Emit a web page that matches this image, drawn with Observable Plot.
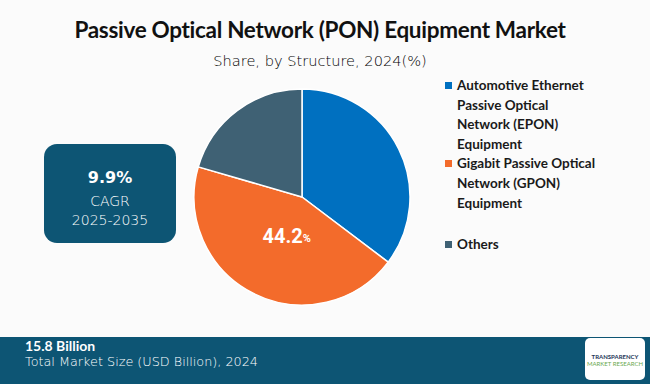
<!DOCTYPE html>
<html><head><meta charset="utf-8">
<script src="https://cdn.jsdelivr.net/npm/d3@7"></script>
<script src="https://cdn.jsdelivr.net/npm/@observablehq/plot@0.6"></script>
<style>
body{margin:0;background:#fbfbfb;}
#page{position:relative;width:650px;height:384px;background:#fbfbfb;overflow:hidden;font-family:Lato,"Open Sans",sans-serif;color:#111;}
#title{position:absolute;left:0;width:640px;top:16px;text-align:center;font-weight:700;font-size:22.5px;letter-spacing:-0.3px;}
#subtitle{position:absolute;left:0;width:640px;top:52px;text-align:center;font-family:"DejaVu Sans",sans-serif;font-size:14.6px;font-weight:300;color:#000;}
#chart{position:absolute;left:187px;top:82px;}
#legend{position:absolute;left:445px;top:76px;font-weight:700;font-size:13.5px;line-height:19.6px;color:#1a1a1a;}
.item{position:relative;padding-left:12px;}
.sw{position:absolute;left:0;top:6px;width:7px;height:7px;}
#cagr{position:absolute;left:44px;top:144px;width:132px;height:99px;border-radius:13px;background:#0d5574;color:#fff;text-align:center;font-family:"DejaVu Sans",sans-serif;}
#cagr .v{margin-top:24px;font-weight:700;font-size:16px;}
#cagr .l{font-size:14px;margin-top:5px;line-height:19px;font-weight:300;}
#footer{position:absolute;left:0;top:337px;width:650px;height:47px;background:#0d5574;color:#fff;}
#footer .a{position:absolute;left:25px;top:1px;font-weight:700;font-size:14px;line-height:16px;}
#footer .b{position:absolute;left:25px;top:18px;font-size:12.8px;line-height:14px;font-family:"DejaVu Sans",sans-serif;font-weight:300;}
#logo{position:absolute;left:585px;top:1px;width:60px;height:42px;background:#fff;border-radius:5px;text-align:center;font-size:6px;font-weight:700;color:#1d3557;}
</style></head><body><div id="page">
<div id="title">Passive Optical Network (PON) Equipment Market</div>
<div id="subtitle">Share, by Structure, 2024(%)</div>
<div id="chart"></div>
<div id="legend"></div>
<div id="cagr"><div class="v">9.9%</div><div class="l">CAGR<br>2025-2035</div></div>
<div id="footer"><div class="a">15.8 Billion</div><div class="b">Total Market Size (USD Billion), 2024</div>
<div id="logo"><div style="margin-top:15px">TRANSPARENCY</div><div style="color:#6aa84f;font-weight:400">MARKET RESEARCH</div></div></div>
</div>
<script>
const categories = ["Automotive Ethernet Passive Optical Network (EPON) Equipment", "Gigabit Passive Optical Network (GPON) Equipment", "Others"];
const legendLines = [["Automotive Ethernet", "Passive Optical", "Network (EPON)", "Equipment"], ["Gigabit Passive Optical", "Network (GPON)", "Equipment"], ["Others"]];
const shares = [35.3, 44.2, 20.5];
const colors = ["#0070c0", "#f36b2b", "#3f6174"];
const labelValue = "44.2";
const labelIndex = 1;

const data = categories.map((c, i) => ({category: c, share: shares[i], color: colors[i]}));

function pieMark(index, scales, values, dimensions) {
  const cx = scales.x(0), cy = scales.y(0), r = scales.x(1) - scales.x(0);
  const arcs = d3.pie().sort(null).value(d => d.share)(data);
  const arc = d3.arc().innerRadius(0).outerRadius(r);
  const g = d3.create("svg:g").attr("transform", `translate(${cx},${cy})`);
  g.selectAll("path").data(arcs).join("path")
    .attr("d", arc).attr("fill", d => d.data.color)
    .attr("stroke", "#fff").attr("stroke-width", 1.5).attr("stroke-linejoin", "round");
  const lab = d3.arc().innerRadius(0).outerRadius(r * 0.8).centroid(arcs[labelIndex]);
  const t = g.append("text").attr("x", lab[0] + 4).attr("y", lab[1]).attr("text-anchor", "middle")
    .attr("dominant-baseline", "central").attr("fill", "#fff")
    .attr("font-family", "Roboto, 'Liberation Sans', sans-serif").attr("font-weight", 700);
  t.append("tspan").attr("font-size", 20).text(labelValue);
  t.append("tspan").attr("font-size", 11).attr("dy", 2).text("%");
  return g.node();
}

const chart = Plot.plot({
  width: 230, height: 230, margin: 0,
  x: {domain: [-1, 1], range: [7, 223], axis: null},
  y: {domain: [-1, 1], range: [223, 7], axis: null},
  style: {background: "transparent", overflow: "visible"},
  marks: [pieMark]
});
document.getElementById("chart").append(chart);

const legend = document.getElementById("legend");
legendLines.forEach((lines, i) => {
  const d = document.createElement("div");
  d.className = "item";
  if (i === 2) d.style.marginTop = "22px";
  d.innerHTML = `<span class="sw" style="background:${colors[i]}"></span>` + lines.join("<br>");
  legend.append(d);
});
</script>
</body></html>
